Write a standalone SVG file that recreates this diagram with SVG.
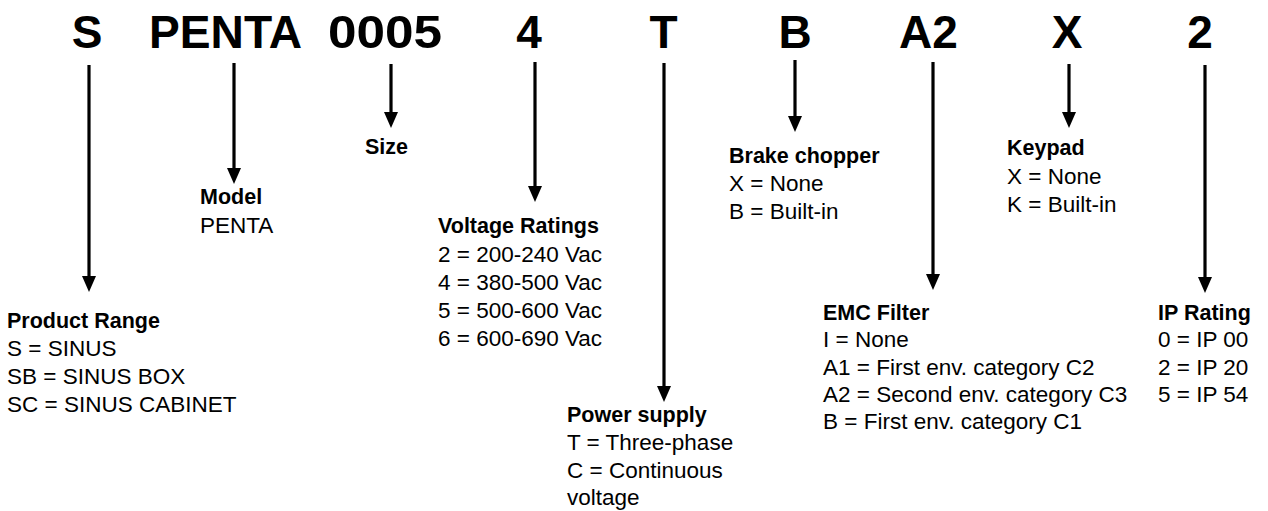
<svg xmlns="http://www.w3.org/2000/svg" width="1268" height="511" viewBox="0 0 1268 511">
<defs>
<marker id="ah" viewBox="0 0 16 14" refX="6" refY="7" markerWidth="16" markerHeight="14" markerUnits="userSpaceOnUse" orient="auto">
<path d="M0,0 L16,7 L0,14 Z" fill="#000"/>
</marker>
<style>
.code{font-family:"Liberation Sans",Arial,sans-serif;font-weight:bold;font-size:46px;fill:#000;text-anchor:middle}
.hd{font-family:"Liberation Sans",Arial,sans-serif;font-weight:bold;font-size:21.5px;fill:#000}
.tx{font-family:"Liberation Sans",Arial,sans-serif;font-size:22.5px;fill:#000}
.ln{stroke:#000;stroke-width:3.2;fill:none;marker-end:url(#ah)}
</style>
</defs>
<rect width="1268" height="511" fill="#fff"/>
<g id="codes">
<text class="code" x="87" y="48">S</text>
<text class="code" x="225.5" y="48" textLength="153" lengthAdjust="spacingAndGlyphs">PENTA</text>
<text class="code" x="385" y="48" textLength="114" lengthAdjust="spacingAndGlyphs">0005</text>
<text class="code" x="529" y="48">4</text>
<text class="code" x="663.5" y="48">T</text>
<text class="code" x="795" y="48">B</text>
<text class="code" x="928.5" y="48">A2</text>
<text class="code" x="1067" y="48">X</text>
<text class="code" x="1200" y="48">2</text>
</g>
<g id="connectors">
<line class="ln" x1="89" y1="65" x2="89" y2="282"/>
<line class="ln" x1="234" y1="63" x2="234" y2="174"/>
<line class="ln" x1="391" y1="64" x2="391" y2="118"/>
<line class="ln" x1="535" y1="62" x2="535" y2="192"/>
<line class="ln" x1="664" y1="63" x2="664" y2="392"/>
<line class="ln" x1="795" y1="60" x2="795" y2="122"/>
<line class="ln" x1="933" y1="62" x2="933" y2="280"/>
<line class="ln" x1="1069" y1="64" x2="1069" y2="118"/>
<line class="ln" x1="1205" y1="65" x2="1205" y2="283"/>
</g>
<g id="product-range">
<text class="hd" x="7" y="328">Product Range</text>
<text class="tx" x="7" y="356">S = SINUS</text>
<text class="tx" x="7" y="384">SB = SINUS BOX</text>
<text class="tx" x="7" y="412">SC = SINUS CABINET</text>
</g>
<g id="model">
<text class="hd" x="200" y="204">Model</text>
<text class="tx" x="200" y="233">PENTA</text>
</g>
<g id="size">
<text class="hd" x="365" y="154">Size</text>
</g>
<g id="voltage-ratings">
<text class="hd" x="438" y="233">Voltage Ratings</text>
<text class="tx" x="438" y="262">2 = 200-240 Vac</text>
<text class="tx" x="438" y="290">4 = 380-500 Vac</text>
<text class="tx" x="438" y="318">5 = 500-600 Vac</text>
<text class="tx" x="438" y="346">6 = 600-690 Vac</text>
</g>
<g id="power-supply">
<text class="hd" x="567" y="422">Power supply</text>
<text class="tx" x="567" y="450">T = Three-phase</text>
<text class="tx" x="567" y="478">C = Continuous</text>
<text class="tx" x="567" y="505">voltage</text>
</g>
<g id="brake-chopper">
<text class="hd" x="729" y="163">Brake chopper</text>
<text class="tx" x="729" y="191">X = None</text>
<text class="tx" x="729" y="219">B = Built-in</text>
</g>
<g id="emc-filter">
<text class="hd" x="823" y="320">EMC Filter</text>
<text class="tx" x="823" y="347">I = None</text>
<text class="tx" x="823" y="375">A1 = First env. category C2</text>
<text class="tx" x="823" y="402">A2 = Second env. category C3</text>
<text class="tx" x="823" y="429">B = First env. category C1</text>
</g>
<g id="keypad">
<text class="hd" x="1007" y="155">Keypad</text>
<text class="tx" x="1007" y="184">X = None</text>
<text class="tx" x="1007" y="212">K = Built-in</text>
</g>
<g id="ip-rating">
<text class="hd" x="1158" y="320">IP Rating</text>
<text class="tx" x="1158" y="347">0 = IP 00</text>
<text class="tx" x="1158" y="375">2 = IP 20</text>
<text class="tx" x="1158" y="402">5 = IP 54</text>
</g>
</svg>
